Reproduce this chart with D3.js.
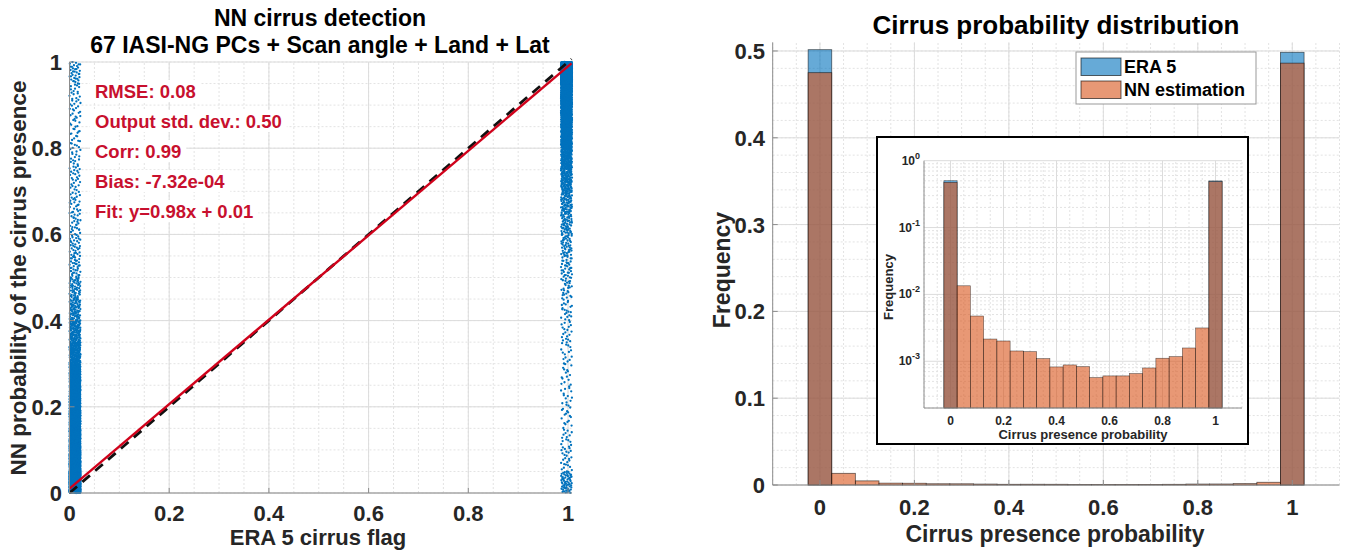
<!DOCTYPE html>
<html>
<head>
<meta charset="utf-8">
<script src="https://cdn.jsdelivr.net/npm/d3@7"></script>
<style>
  body { margin: 0; background: #fff; }
  svg { font-family: "Liberation Sans", Arial, sans-serif; }
</style>
</head>
<body>
<div id="chart"></div>
<script>
var width = 1346,
    height = 553;

// ---- data ----
var leftTitle = ["NN cirrus detection", "67 IASI-NG PCs + Scan angle + Land + Lat"];
var statLabels = ["RMSE: 0.08", "Output std. dev.: 0.50", "Corr: 0.99", "Bias: -7.32e-04", "Fit: y=0.98x + 0.01"];
var fitSlope = 0.98, fitIntercept = 0.01;
var axisTicks = [0, 0.2, 0.4, 0.6, 0.8, 1];

// scatter density: number of points per 0.05 bin of NN probability (bottom to top)
var densityBins = [0, 0.05, 0.1, 0.15, 0.2, 0.25, 0.3, 0.35, 0.4, 0.45, 0.5, 0.55, 0.6, 0.65, 0.7, 0.75, 0.8, 0.85, 0.9, 0.95];
var countsFlag0 = [1200, 700, 520, 420, 340, 260, 180, 120, 80, 55, 40, 32, 28, 25, 22, 20, 20, 20, 22, 35];
var countsFlag1 = [60, 22, 18, 16, 15, 15, 16, 18, 22, 28, 35, 45, 60, 80, 110, 160, 240, 360, 500, 900];

var histCenters = [0, 0.05, 0.1, 0.15, 0.2, 0.25, 0.3, 0.35, 0.4, 0.45, 0.5, 0.55, 0.6, 0.65, 0.7, 0.75, 0.8, 0.85, 0.9, 0.95, 1];
var era5Freq = [0.5015, 0, 0, 0, 0, 0, 0, 0, 0, 0, 0, 0, 0, 0, 0, 0, 0, 0, 0, 0, 0.4985];
var nnFreq = [0.475, 0.01346, 0.00475, 0.00215, 0.00201, 0.001425, 0.001394, 0.001096, 0.000823, 0.000881,
              0.000832, 0.00057, 0.000604, 0.000604, 0.000655, 0.000794, 0.00111, 0.001175, 0.00158, 0.00315, 0.486];
var freqTicks = [0, 0.1, 0.2, 0.3, 0.4, 0.5];
var logTicks = [1e-3, 1e-2, 1e-1, 1];
var seriesNames = ["ERA 5", "NN estimation"];

var blue = "#0072bd", orange = "#d95319";
var textCol = "#262626", red = "#c8102e";

var svg = d3.select("#chart").append("svg")
    .attr("width", width)
    .attr("height", height);

// draws a light grid (minor dotted, major solid)
function grid(g, x, y, xMinor, yMinor, xMajor, yMajor) {
  var x0 = x.range()[0], x1 = x.range()[1], y0 = y.range()[0], y1 = y.range()[1];
  g.selectAll(null).data(xMinor).enter().append("line")
    .attr("x1", function(d){ return x(d); }).attr("x2", function(d){ return x(d); })
    .attr("y1", y0).attr("y2", y1)
    .attr("stroke", "#e3e3e3").attr("stroke-dasharray", "2,2");
  g.selectAll(null).data(yMinor).enter().append("line")
    .attr("y1", function(d){ return y(d); }).attr("y2", function(d){ return y(d); })
    .attr("x1", x0).attr("x2", x1)
    .attr("stroke", "#e3e3e3").attr("stroke-dasharray", "2,2");
  g.selectAll(null).data(xMajor).enter().append("line")
    .attr("x1", function(d){ return x(d); }).attr("x2", function(d){ return x(d); })
    .attr("y1", y0).attr("y2", y1)
    .attr("stroke", "#dcdcdc");
  g.selectAll(null).data(yMajor).enter().append("line")
    .attr("y1", function(d){ return y(d); }).attr("y2", function(d){ return y(d); })
    .attr("x1", x0).attr("x2", x1)
    .attr("stroke", "#dcdcdc");
}

function steps(a, b, s) {
  return d3.range(Math.round((b - a) / s) + 1).map(function(i){ return +(a + i * s).toFixed(4); });
}

/*
-----------------LEFT: SCATTER-----------------
*/
var xL = d3.scaleLinear().domain([0, 1.008]).range([69.5, 572]);
var yL = d3.scaleLinear().domain([0, 1]).range([493, 62]);
var left = svg.append("g");

grid(left, xL, yL, steps(0, 1, 0.05), steps(0, 1, 0.05), axisTicks, axisTicks);

// halton sequence, used to spread points evenly inside a density bin
function halton(i, b) {
  var f = 1, r = 0;
  while (i > 0) { f = f / b; r += f * (i % b); i = Math.floor(i / b); }
  return r;
}
function columnPoints(counts, xa, xb) {
  var pts = [], k = 1;
  counts.forEach(function(n, bi) {
    for (var j = 0; j < n; j++, k++) {
      pts.push({x: xa + (xb - xa) * halton(k, 2), y: densityBins[bi] + 0.05 * halton(k, 3)});
    }
  });
  return pts;
}
var scatterPts = columnPoints(countsFlag0, 0, 0.022).concat(columnPoints(countsFlag1, 0.986, 1.008));

left.selectAll(null).data(scatterPts).enter().append("circle")
  .attr("cx", function(d){ return xL(d.x); })
  .attr("cy", function(d){ return yL(d.y); })
  .attr("r", 1.15)
  .attr("fill", blue);

// 1:1 line and fit
var lineFn = d3.line().x(function(d){ return xL(d[0]); }).y(function(d){ return yL(d[1]); });
left.append("path")
  .attr("d", lineFn([[0, 0], [1.007, 1.007]]))
  .attr("stroke", "#111").attr("stroke-width", 2.8).attr("stroke-dasharray", "10,7")
  .attr("fill", "none");
left.append("path")
  .attr("d", lineFn([[0, fitIntercept], [1.007, fitSlope * 1.007 + fitIntercept]]))
  .attr("stroke", "#d0021b").attr("stroke-width", 2.4)
  .attr("fill", "none");

// stats text with white background
var stats = left.selectAll(null).data(statLabels).enter().append("g");
stats.append("text")
  .attr("x", 95).attr("y", function(d, i){ return 98 + i * 30; })
  .attr("font-size", 18.5).attr("font-weight", "bold").attr("fill", red)
  .text(function(d){ return d; });
stats.each(function() {
  var t = d3.select(this).select("text"), bb = t.node().getBBox();
  d3.select(this).insert("rect", "text")
    .attr("x", bb.x - 5).attr("y", bb.y - 1).attr("width", bb.width + 10).attr("height", bb.height + 1)
    .attr("fill", "#fff");
});

// axes
left.append("line").attr("x1", xL(0)).attr("x2", xL(0)).attr("y1", yL(0)).attr("y2", yL(1)).attr("stroke", "#8c8c8c");
left.append("line").attr("x1", xL(0)).attr("x2", xL(1.008)).attr("y1", yL(0)).attr("y2", yL(0)).attr("stroke", "#8c8c8c");
left.selectAll(null).data(axisTicks).enter().append("line")
  .attr("x1", function(d){ return xL(d); }).attr("x2", function(d){ return xL(d); })
  .attr("y1", yL(0)).attr("y2", yL(0) - 5).attr("stroke", "#8c8c8c");
left.selectAll(null).data(axisTicks).enter().append("line")
  .attr("y1", function(d){ return yL(d); }).attr("y2", function(d){ return yL(d); })
  .attr("x1", xL(0)).attr("x2", xL(0) + 5).attr("stroke", "#8c8c8c");

left.selectAll(null).data(axisTicks).enter().append("text")
  .attr("x", function(d){ return xL(d); }).attr("y", 521)
  .attr("text-anchor", "middle").attr("font-size", 22).attr("font-weight", "bold").attr("fill", textCol)
  .text(function(d){ return d3.format("")(d); });
left.selectAll(null).data(axisTicks).enter().append("text")
  .attr("x", 62).attr("y", function(d){ return yL(d) + 8; })
  .attr("text-anchor", "end").attr("font-size", 22).attr("font-weight", "bold").attr("fill", textCol)
  .text(function(d){ return d3.format("")(d); });

left.selectAll(null).data(leftTitle).enter().append("text")
  .attr("x", 320).attr("y", function(d, i){ return 26 + i * 27; })
  .attr("text-anchor", "middle").attr("font-size", 23).attr("font-weight", "bold").attr("fill", "#000")
  .text(function(d){ return d; });
left.append("text")
  .attr("x", 318).attr("y", 545)
  .attr("text-anchor", "middle").attr("font-size", 22).attr("font-weight", "bold").attr("fill", textCol)
  .text("ERA 5 cirrus flag");
left.append("text")
  .attr("transform", "translate(26,278) rotate(-90)")
  .attr("text-anchor", "middle").attr("font-size", 22.5).attr("font-weight", "bold").attr("fill", textCol)
  .text("NN probability of the cirrus presence");

/*
-----------------RIGHT: HISTOGRAM-----------------
*/
var xR = d3.scaleLinear().domain([-0.1, 1.1]).range([772.7, 1339.5]);
var yR = d3.scaleLinear().domain([0, 0.51]).range([485, 42.3]);
var right = svg.append("g");

grid(right, xR, yR, steps(-0.1, 1.1, 0.05), steps(0, 0.5, 0.02), axisTicks, freqTicks);

var series = [era5Freq, nnFreq];
var colors = [blue, orange];
series.forEach(function(vals, si) {
  right.selectAll(null).data(histCenters.filter(function(c, i){ return vals[i] > 0; })).enter().append("rect")
    .attr("x", function(d){ return xR(d - 0.025); })
    .attr("width", function(d){ return xR(d + 0.025) - xR(d - 0.025); })
    .attr("y", function(d){ return yR(vals[histCenters.indexOf(d)]); })
    .attr("height", function(d){ return yR(0) - yR(vals[histCenters.indexOf(d)]); })
    .attr("fill", colors[si]).attr("fill-opacity", 0.6)
    .attr("stroke", "#000").attr("stroke-opacity", 0.6).attr("stroke-width", 0.8);
});

right.append("line").attr("x1", xR(-0.1)).attr("x2", xR(-0.1)).attr("y1", yR(0)).attr("y2", yR(0.51)).attr("stroke", "#8c8c8c");
right.append("line").attr("x1", xR(-0.1)).attr("x2", xR(1.1)).attr("y1", yR(0)).attr("y2", yR(0)).attr("stroke", "#8c8c8c");
right.selectAll(null).data(axisTicks).enter().append("line")
  .attr("x1", function(d){ return xR(d); }).attr("x2", function(d){ return xR(d); })
  .attr("y1", yR(0)).attr("y2", yR(0) - 5).attr("stroke", "#8c8c8c");
right.selectAll(null).data(freqTicks).enter().append("line")
  .attr("y1", function(d){ return yR(d); }).attr("y2", function(d){ return yR(d); })
  .attr("x1", xR(-0.1)).attr("x2", xR(-0.1) + 5).attr("stroke", "#8c8c8c");

right.selectAll(null).data(axisTicks).enter().append("text")
  .attr("x", function(d){ return xR(d); }).attr("y", 515)
  .attr("text-anchor", "middle").attr("font-size", 22).attr("font-weight", "bold").attr("fill", textCol)
  .text(function(d){ return d3.format("")(d); });
right.selectAll(null).data(freqTicks).enter().append("text")
  .attr("x", 765).attr("y", function(d){ return yR(d) + 8; })
  .attr("text-anchor", "end").attr("font-size", 22).attr("font-weight", "bold").attr("fill", textCol)
  .text(function(d){ return d3.format("")(d); });

right.append("text")
  .attr("x", 1056).attr("y", 34)
  .attr("text-anchor", "middle").attr("font-size", 26).attr("font-weight", "bold").attr("fill", "#000")
  .text("Cirrus probability distribution");
right.append("text")
  .attr("x", 1055).attr("y", 542)
  .attr("text-anchor", "middle").attr("font-size", 23).attr("font-weight", "bold").attr("fill", textCol)
  .text("Cirrus presence probability");
right.append("text")
  .attr("transform", "translate(730,270) rotate(-90)")
  .attr("text-anchor", "middle").attr("font-size", 23).attr("font-weight", "bold").attr("fill", textCol)
  .text("Frequency");

// legend
var legend = right.append("g");
legend.append("rect").attr("x", 1076).attr("y", 52).attr("width", 180).attr("height", 52)
  .attr("fill", "#fff").attr("stroke", "#999");
seriesNames.forEach(function(name, i) {
  legend.append("rect").attr("x", 1081).attr("y", 58 + i * 23).attr("width", 40).attr("height", 17.5)
    .attr("fill", colors[i]).attr("fill-opacity", 0.6).attr("stroke", "#000").attr("stroke-opacity", 0.6);
  legend.append("text").attr("x", 1124).attr("y", 73 + i * 23)
    .attr("font-size", 18).attr("font-weight", "bold").attr("fill", "#000")
    .text(name);
});

/*
-----------------INSET: LOG HISTOGRAM-----------------
*/
var inset = svg.append("g");
inset.append("rect").attr("x", 877).attr("y", 137).attr("width", 371).attr("height", 307)
  .attr("fill", "#fff").attr("stroke", "#000").attr("stroke-width", 2);

var xI = d3.scaleLinear().domain([-0.1, 1.1]).range([924, 1242]);
var yI = d3.scaleLog().domain([2e-4, 1]).range([408, 160.7]);
var logMinor = [];
[1e-4, 1e-3, 1e-2, 1e-1].forEach(function(dec) {
  for (var m = 2; m <= 9; m++) { if (dec * m >= 2e-4) logMinor.push(dec * m); }
});
grid(inset, xI, yI, steps(-0.1, 1.1, 0.05), logMinor, axisTicks, logTicks);

series.forEach(function(vals, si) {
  inset.selectAll(null).data(histCenters.filter(function(c, i){ return vals[i] > 0; })).enter().append("rect")
    .attr("x", function(d){ return xI(d - 0.025); })
    .attr("width", function(d){ return xI(d + 0.025) - xI(d - 0.025); })
    .attr("y", function(d){ return yI(vals[histCenters.indexOf(d)]); })
    .attr("height", function(d){ return yI(2e-4) - yI(vals[histCenters.indexOf(d)]); })
    .attr("fill", colors[si]).attr("fill-opacity", 0.6)
    .attr("stroke", "#000").attr("stroke-opacity", 0.6).attr("stroke-width", 0.6);
});

inset.append("line").attr("x1", xI(-0.1)).attr("x2", xI(-0.1)).attr("y1", yI(2e-4)).attr("y2", yI(1)).attr("stroke", "#8c8c8c");
inset.append("line").attr("x1", xI(-0.1)).attr("x2", xI(1.1)).attr("y1", yI(2e-4)).attr("y2", yI(2e-4)).attr("stroke", "#8c8c8c");

inset.selectAll(null).data(axisTicks).enter().append("text")
  .attr("x", function(d){ return xI(d); }).attr("y", 425)
  .attr("text-anchor", "middle").attr("font-size", 12).attr("font-weight", "bold").attr("fill", textCol)
  .text(function(d){ return d3.format("")(d); });
var yLab = inset.selectAll(null).data(logTicks).enter().append("text")
  .attr("x", 920).attr("y", function(d){ return yI(d) + 4; })
  .attr("text-anchor", "end").attr("font-size", 12).attr("font-weight", "bold").attr("fill", textCol);
yLab.append("tspan").text("10");
yLab.append("tspan").attr("dy", -6).attr("font-size", 9)
  .text(function(d){ return Math.round(Math.log10(d)); });

inset.append("text")
  .attr("x", 1083).attr("y", 439)
  .attr("text-anchor", "middle").attr("font-size", 13).attr("font-weight", "bold").attr("fill", textCol)
  .text("Cirrus presence probability");
inset.append("text")
  .attr("transform", "translate(893,287) rotate(-90)")
  .attr("text-anchor", "middle").attr("font-size", 13).attr("font-weight", "bold").attr("fill", textCol)
  .text("Frequency");
</script>
</body>
</html>
